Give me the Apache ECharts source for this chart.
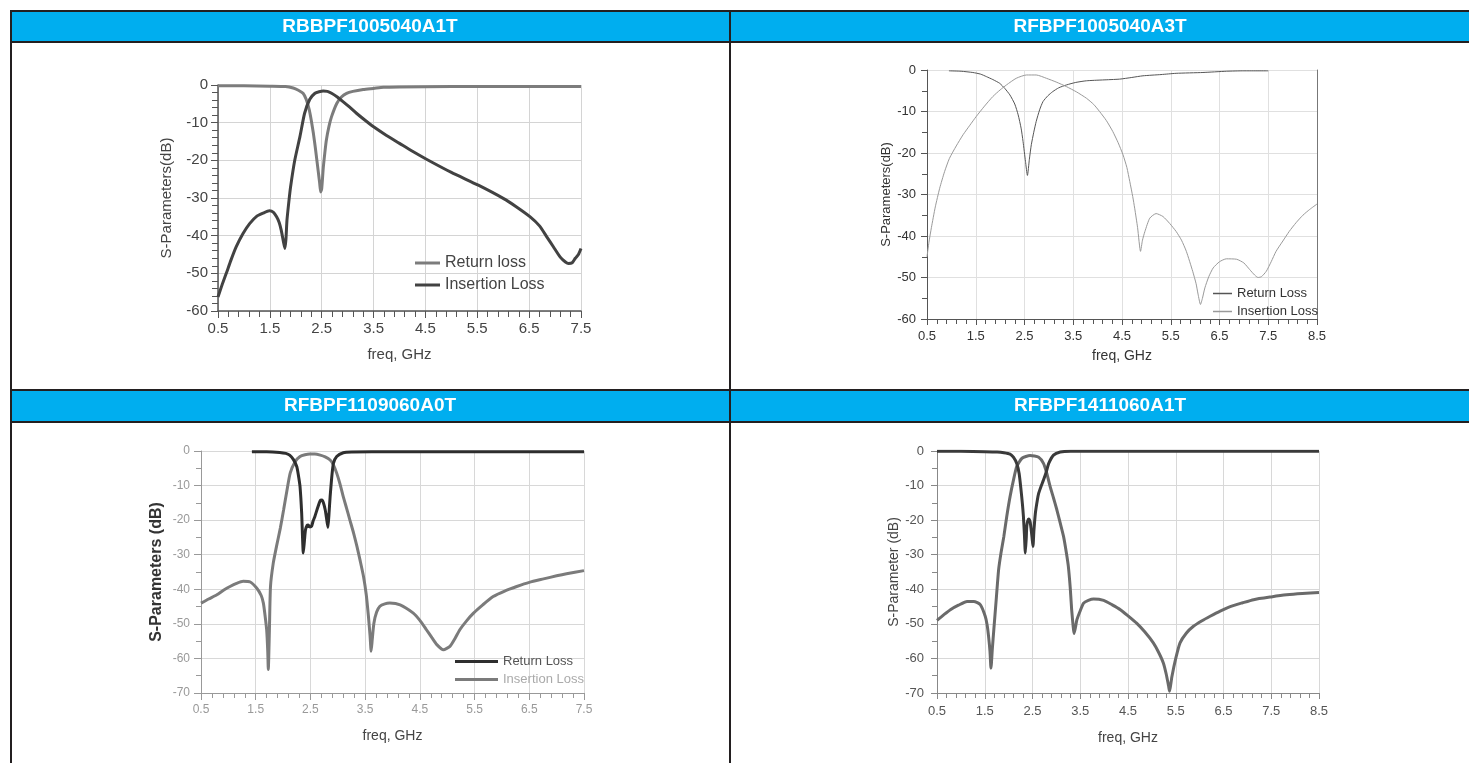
<!DOCTYPE html>
<html>
<head>
<meta charset="utf-8">
<script src="https://cdn.jsdelivr.net/npm/echarts@6/dist/echarts.min.js"></script>
<style>
html,body{margin:0;padding:0;background:#fff;}
#chart{width:1469px;height:763px;}
</style>
</head>
<body>
<div id="chart"></div>
<script>
// ---------- titles / labels ----------
const panelTitles = ['RBBPF1005040A1T', 'RFBPF1005040A3T', 'RFBPF1109060A0T', 'RFBPF1411060A1T'];
const xAxisName = 'freq, GHz';
const yAxisNames = ['S-Parameters(dB)', 'S-Parameters(dB)', 'S-Parameters (dB)', 'S-Parameter (dB)'];
const legendLabels1 = ['Return loss', 'Insertion Loss'];
const legendLabels2 = ['Return Loss', 'Insertion Loss'];
const legendLabels3 = ['Return Loss', 'Insertion Loss'];

// ---------- panel 1 : RBBPF1005040A1T ----------
const p1_rl_f = [0.5, 1.0, 1.5, 1.8, 1.95, 2.05, 2.14, 2.2, 2.26, 2.3, 2.34, 2.38, 2.43, 2.46, 2.48, 2.5, 2.53, 2.56, 2.59, 2.64, 2.69, 2.79, 2.88, 2.98, 3.1, 3.3, 3.5, 3.69, 4.0, 5.0, 6.0, 7.5];
const p1_rl_db = [-0.2, -0.2, -0.3, -0.4, -0.8, -1.4, -2.2, -3.8, -6.6, -9.5, -12.9, -17, -22.6, -26, -28.4, -27.5, -22, -18, -14.6, -11, -8.4, -4.9, -3.2, -2.2, -1.7, -1.2, -0.9, -0.6, -0.5, -0.4, -0.4, -0.4];
const p1_il_f = [0.5, 0.58, 0.66, 0.75, 0.85, 0.98, 1.11, 1.25, 1.37, 1.49, 1.57, 1.63, 1.68, 1.72, 1.76, 1.79, 1.81, 1.83, 1.87, 1.9, 1.98, 2.08, 2.17, 2.27, 2.37, 2.45, 2.53, 2.61, 2.69, 2.8, 2.91, 3.04, 3.17, 3.33, 3.5, 3.75, 4.0, 4.25, 4.52, 5.0, 5.52, 6.0, 6.25, 6.52, 6.7, 6.84, 6.97, 7.1, 7.2, 7.26, 7.33, 7.39, 7.45, 7.5];
const p1_il_db = [-56.3, -53, -50, -46.5, -43, -39.5, -36.8, -34.8, -34, -33.4, -33.8, -35, -36.5, -38.6, -41.5, -43.4, -41, -35.9, -30.5, -27, -20, -13.7, -7.5, -3.8, -2.2, -1.8, -1.6, -1.7, -2.2, -3.2, -4.4, -5.9, -7.5, -9.3, -11.1, -13.4, -15.5, -17.6, -19.7, -23.2, -26.6, -30.1, -32.3, -35, -37.4, -40.3, -43, -45.7, -47, -47.4, -47.2, -46, -45, -43.4];

// ---------- panel 2 : RFBPF1005040A3T ----------
const p2_rl_f = [0.95, 1.2, 1.44, 1.6, 1.72, 1.85, 1.99, 2.1, 2.2, 2.3, 2.37, 2.43, 2.47, 2.52, 2.56, 2.6, 2.64, 2.69, 2.74, 2.81, 2.88, 2.98, 3.08, 3.2, 3.36, 3.55, 3.77, 4.1, 4.45, 4.7, 4.93, 5.3, 5.61, 6.16, 6.64, 7.0, 7.5];
const p2_rl_db = [-0.2, -0.3, -0.6, -1.0, -1.6, -2.3, -3.2, -4.5, -6, -8.2, -10.8, -14, -17.2, -22, -25.4, -21.5, -18, -15, -12.4, -9.6, -7.6, -6.2, -5.2, -4.3, -3.6, -3.0, -2.6, -2.4, -2.2, -1.8, -1.4, -1.1, -0.8, -0.6, -0.3, -0.2, -0.2];
const p2_il_f = [0.5, 0.54, 0.59, 0.67, 0.76, 0.86, 0.96, 1.1, 1.24, 1.38, 1.51, 1.68, 1.85, 2.0, 2.13, 2.33, 2.54, 2.74, 2.95, 3.15, 3.36, 3.57, 3.77, 3.92, 4.04, 4.18, 4.31, 4.42, 4.52, 4.6, 4.66, 4.72, 4.76, 4.82, 4.88, 4.92, 4.97, 5.07, 5.2, 5.34, 5.48, 5.61, 5.72, 5.82, 5.95, 6.02, 6.06, 6.11, 6.15, 6.2, 6.28, 6.37, 6.5, 6.64, 6.85, 7.0, 7.12, 7.22, 7.29, 7.36, 7.46, 7.56, 7.66, 7.8, 7.93, 8.07, 8.21, 8.35, 8.5];
const p2_il_db = [-45, -41.5, -38, -33, -28.5, -24.5, -21.3, -18.3, -15.6, -13.3, -11.2, -8.7, -6.4, -4.8, -3.6, -2.0, -1.2, -1.2, -2.0, -2.9, -4.0, -5.3, -6.8, -8.3, -10, -12.2, -14.8, -17.5, -20.4, -23.5, -26.9, -30.5, -33.3, -38, -43.7, -41, -38.9, -35.7, -34.6, -35.3, -37, -38.9, -41, -43.7, -48.5, -51.5, -54, -56.5, -55, -52.5, -49.8, -47.7, -46.2, -45.5, -45.6, -46.5, -48.1, -49.4, -50, -49.8, -48.5, -46.2, -43.7, -41.2, -38.9, -36.8, -35, -33.6, -32.3];

// ---------- panel 3 : RFBPF1109060A0T ----------
const p3_rl_f = [1.43, 1.7, 1.94, 2.05, 2.12, 2.19, 2.25, 2.28, 2.31, 2.34, 2.37, 2.39, 2.41, 2.44, 2.46, 2.49, 2.52, 2.55, 2.58, 2.63, 2.68, 2.71, 2.74, 2.77, 2.79, 2.82, 2.84, 2.86, 2.89, 2.92, 2.98, 3.1, 3.25, 4.0, 5.0, 6.0, 7.5];
const p3_rl_db = [-0.2, -0.2, -0.4, -0.7, -1.2, -2.5, -4.5, -7, -10.3, -18, -29.5, -26, -22.8, -21.5, -21.4, -22, -21.8, -20.2, -19, -16.5, -14.3, -14.2, -15.1, -17, -19, -22.1, -18, -13.2, -7.5, -3.6, -1.6, -0.5, -0.3, -0.2, -0.2, -0.2, -0.2];
const p3_il_f = [0.5, 0.64, 0.79, 0.91, 1.03, 1.15, 1.27, 1.4, 1.52, 1.6, 1.64, 1.67, 1.7, 1.72, 1.73, 1.75, 1.77, 1.82, 1.88, 1.95, 2.01, 2.07, 2.13, 2.22, 2.31, 2.4, 2.49, 2.58, 2.68, 2.77, 2.86, 2.92, 2.98, 3.04, 3.1, 3.16, 3.22, 3.29, 3.35, 3.41, 3.47, 3.52, 3.56, 3.59, 3.61, 3.63, 3.66, 3.71, 3.77, 3.86, 3.95, 4.14, 4.38, 4.5, 4.62, 4.72, 4.81, 4.93, 5.05, 5.14, 5.23, 5.35, 5.48, 5.65, 5.84, 6.05, 6.27, 6.5, 6.76, 7.0, 7.18, 7.5];
const p3_il_db = [-44, -42.8, -41.6, -40.3, -39.2, -38.3, -37.7, -37.9, -39.7, -41.8, -44, -47.5, -51.7, -58, -63.2, -52, -39.2, -32.5, -27.6, -22.3, -17, -11.5, -6.4, -3.1, -1.6, -1.1, -0.9, -0.9, -1.2, -1.7, -2.6, -4, -6.4, -9.5, -13.2, -16.5, -19.9, -23.8, -27.6, -31.8, -36.3, -41.5, -47.8, -53.5, -57.9, -54.5, -49.8, -46.6, -44.9, -44.2, -44, -44.5, -46.9, -49, -51.7, -54, -56, -57.5, -56.5, -54.3, -51.7, -49.2, -46.9, -44.5, -42.1, -40.5, -39.2, -38, -37, -36.1, -35.5, -34.6];

// ---------- panel 4 : RFBPF1411060A1T ----------
const p4_rl_f = [0.5, 1.0, 1.5, 1.76, 1.9, 2.03, 2.1, 2.17, 2.22, 2.26, 2.29, 2.31, 2.33, 2.35, 2.37, 2.38, 2.4, 2.42, 2.45, 2.47, 2.49, 2.51, 2.53, 2.56, 2.6, 2.63, 2.68, 2.73, 2.79, 2.84, 2.94, 3.08, 3.3, 4.0, 5.0, 6.0, 7.0, 8.5];
const p4_rl_db = [-0.1, -0.1, -0.2, -0.3, -0.5, -0.9, -1.8, -3.6, -6.5, -11.3, -15.5, -19, -24, -29.5, -25, -21.8, -20.2, -19.7, -20.5, -22.5, -25, -27.6, -23, -18, -14.3, -12.2, -10.2, -8.4, -6, -3.6, -1.2, -0.3, -0.1, -0.1, -0.1, -0.1, -0.1, -0.1];
const p4_il_f = [0.5, 0.64, 0.78, 0.95, 1.13, 1.27, 1.41, 1.51, 1.55, 1.58, 1.61, 1.63, 1.66, 1.69, 1.74, 1.79, 1.84, 1.9, 1.96, 2.03, 2.1, 2.17, 2.28, 2.45, 2.63, 2.73, 2.8, 2.87, 2.94, 3.01, 3.08, 3.15, 3.21, 3.25, 3.29, 3.32, 3.35, 3.37, 3.4, 3.43, 3.5, 3.57, 3.67, 3.78, 3.99, 4.17, 4.34, 4.51, 4.68, 4.85, 5.03, 5.14, 5.24, 5.3, 5.35, 5.37, 5.39, 5.42, 5.5, 5.59, 5.72, 5.87, 6.05, 6.22, 6.43, 6.64, 6.9, 7.13, 7.5, 7.82, 8.15, 8.5];
const p4_il_db = [-49, -47.4, -45.9, -44.6, -43.5, -43.5, -44.5, -47.8, -50.3, -53.6, -58, -62.8, -57, -51.7, -43, -34.4, -29.5, -24.7, -19, -13.2, -8.5, -4.5, -2.1, -1.3, -1.8, -3.6, -6.5, -10.3, -13.6, -17, -20.8, -24.7, -29.5, -33.3, -39.5, -45.9, -50.5, -52.8, -51, -48.8, -46.2, -44, -43.2, -42.8, -43.2, -44.5, -45.9, -47.8, -49.8, -52.3, -55.5, -58.2, -61.3, -64.5, -68, -69.5, -68, -65.2, -60, -55.5, -52.7, -50.7, -49.1, -47.8, -46.3, -45, -43.9, -43, -42.2, -41.6, -41.2, -40.9];

// ---------- axis ranges ----------
const xMax = [7.5, 8.5, 7.5, 8.5];
const yMin = [-60, -60, -70, -70];
</script>
<script>
const zip = (f, d) => f.map((v, i) => [v, d[i]]);
const FONT = 'Liberation Sans, Arial, sans-serif';

// layout / style per panel
const P = [
  { grid: {left: 218, top: 85, width: 363, height: 226},
    axisColor: '#555', axisWidth: 1.5, split: '#d4d4d4', labelSize: 15, labelColor: '#444',
    xMargin: 10, yMargin: 10, yMinor: 5, tickLen: 7, minorLen: 6, rightLine: false,
    yName: {size: 15, color: '#444', weight: 'normal', gap: 44},
    xName: {size: 15, color: '#444', gap: 36} },
  { grid: {left: 927, top: 70, width: 390, height: 249},
    axisColor: '#555', axisWidth: 1, split: '#e0e0e0', labelSize: 13, labelColor: '#333',
    xMargin: 11, yMargin: 11, yMinor: 2, tickLen: 6, minorLen: 5, rightLine: true,
    yName: {size: 13, color: '#333', weight: 'normal', gap: 32},
    xName: {size: 14, color: '#333', gap: 30} },
  { grid: {left: 201, top: 451, width: 383, height: 242},
    axisColor: '#999', axisWidth: 1, split: '#d8d8d8', labelSize: 12, labelColor: '#999',
    xMargin: 11, yMargin: 11, yMinor: 2, tickLen: 7, minorLen: 5, rightLine: false,
    yName: {size: 16, color: '#333', weight: 'bold', gap: 36},
    xName: {size: 14, color: '#444', gap: 36} },
  { grid: {left: 937, top: 451, width: 382, height: 242},
    axisColor: '#888', axisWidth: 1, split: '#d8d8d8', labelSize: 13, labelColor: '#555',
    xMargin: 12, yMargin: 13, yMinor: 2, tickLen: 6, minorLen: 5, rightLine: false,
    yName: {size: 14, color: '#444', weight: 'normal', gap: 36},
    xName: {size: 14, color: '#444', gap: 38} }
];

const grids = [], xAxes = [], yAxes = [];
P.forEach((p, i) => {
  grids.push(Object.assign({containLabel: false, outerBoundsMode: 'none'}, p.grid));
  xAxes.push({
    type: 'value', gridIndex: i, min: 0.5, max: xMax[i], interval: 1,
    axisLine: {show: true, onZero: false, lineStyle: {color: p.axisColor, width: p.axisWidth}},
    axisTick: {show: true, length: p.tickLen, lineStyle: {color: p.axisColor}},
    minorTick: {show: true, splitNumber: 5, length: p.minorLen, lineStyle: {color: p.axisColor}},
    minorSplitLine: {show: false},
    splitLine: {show: true, lineStyle: {color: p.split, width: 1}},
    axisLabel: {fontFamily: FONT, fontSize: p.labelSize, color: p.labelColor, margin: p.xMargin,
                formatter: v => v.toFixed(1)},
    name: xAxisName, nameLocation: 'middle', nameGap: p.xName.gap,
    nameTextStyle: {fontFamily: FONT, fontSize: p.xName.size, color: p.xName.color}
  });
  yAxes.push({
    type: 'value', gridIndex: i, min: yMin[i], max: 0, interval: 10,
    axisLine: {show: true, onZero: false, lineStyle: {color: p.axisColor, width: p.axisWidth}},
    axisTick: {show: true, length: p.tickLen, lineStyle: {color: p.axisColor}},
    minorTick: {show: true, splitNumber: p.yMinor, length: p.minorLen, lineStyle: {color: p.axisColor}},
    minorSplitLine: {show: false},
    splitLine: {show: true, lineStyle: {color: p.split, width: 1}},
    axisLabel: {fontFamily: FONT, fontSize: p.labelSize, color: p.labelColor, margin: p.yMargin},
    name: yAxisNames[i], nameLocation: 'middle', nameGap: p.yName.gap, nameRotate: 90,
    nameTextStyle: {fontFamily: FONT, fontSize: p.yName.size, color: p.yName.color, fontWeight: p.yName.weight}
  });
});
// darker right frame line on panel 2
P.forEach((p, i) => {
  if (!p.rightLine) return;
  yAxes.push({
    type: 'value', gridIndex: i, min: yMin[i], max: 0, interval: 10, position: 'right',
    axisLine: {show: true, onZero: false, lineStyle: {color: '#777', width: 1}},
    axisTick: {show: false}, axisLabel: {show: false}, splitLine: {show: false}
  });
});

function line(name, idx, data, color, width) {
  return {
    name: name, type: 'line', xAxisIndex: idx, yAxisIndex: idx, data: data,
    showSymbol: false, symbol: 'none', smooth: 0.2, color: color,
    itemStyle: {color: color},
    lineStyle: {color: color, width: width}, emphasis: {disabled: true}, silent: true
  };
}

const series = [
  line('p1rl', 0, zip(p1_rl_f, p1_rl_db), '#7c7c7c', 3),
  line('p1il', 0, zip(p1_il_f, p1_il_db), '#424242', 3),
  line('p2rl', 1, zip(p2_rl_f, p2_rl_db), '#555555', 1),
  line('p2il', 1, zip(p2_il_f, p2_il_db), '#9a9a9a', 1),
  line('p3il', 2, zip(p3_il_f, p3_il_db), '#7b7b7b', 3),
  line('p3rl', 2, zip(p3_rl_f, p3_rl_db), '#2e2e2e', 3),
  line('p4il', 3, zip(p4_il_f, p4_il_db), '#6a6a6a', 3),
  line('p4rl', 3, zip(p4_rl_f, p4_rl_db), '#3a3a3a', 3)
];

const legendMap = {
  p1rl: legendLabels1[0], p1il: legendLabels1[1],
  p2rl: legendLabels2[0], p2il: legendLabels2[1],
  p3rl: legendLabels3[0], p3il: legendLabels3[1]
};
const legends = [
  {left: 415, top: 255, orient: 'vertical', itemWidth: 25, itemHeight: 3, itemGap: 6, icon: 'rect',
   data: ['p1rl', 'p1il'], textStyle: {fontFamily: FONT, fontSize: 16, color: '#444'}},
  {left: 1213, top: 287, orient: 'vertical', itemWidth: 19, itemHeight: 1.5, itemGap: 5, icon: 'rect',
   data: ['p2rl', 'p2il'], textStyle: {fontFamily: FONT, fontSize: 13, color: '#333'}},
  {left: 455, top: 655, orient: 'vertical', itemWidth: 43, itemHeight: 3, itemGap: 5, icon: 'rect',
   data: [{name: 'p3rl', textStyle: {color: '#555'}}, {name: 'p3il', textStyle: {color: '#aaa'}}],
   textStyle: {fontFamily: FONT, fontSize: 13}}
].map(l => Object.assign({selectedMode: false, padding: 0, formatter: n => legendMap[n]}, l));

// table frame and header bars
const BORDER = '#231f20', BLUE = '#00aeef';
const graphic = [
  {type: 'rect', shape: {x: 12, y: 12, width: 717, height: 29}, style: {fill: BLUE}, silent: true},
  {type: 'rect', shape: {x: 731, y: 12, width: 738, height: 29}, style: {fill: BLUE}, silent: true},
  {type: 'rect', shape: {x: 12, y: 391, width: 717, height: 30}, style: {fill: BLUE}, silent: true},
  {type: 'rect', shape: {x: 731, y: 391, width: 738, height: 30}, style: {fill: BLUE}, silent: true},
  {type: 'rect', shape: {x: 10, y: 10, width: 1459, height: 2}, style: {fill: BORDER}, silent: true},
  {type: 'rect', shape: {x: 10, y: 41, width: 1459, height: 2}, style: {fill: BORDER}, silent: true},
  {type: 'rect', shape: {x: 10, y: 389, width: 1459, height: 2}, style: {fill: BORDER}, silent: true},
  {type: 'rect', shape: {x: 10, y: 421, width: 1459, height: 2}, style: {fill: BORDER}, silent: true},
  {type: 'rect', shape: {x: 10, y: 10, width: 2, height: 753}, style: {fill: BORDER}, silent: true},
  {type: 'rect', shape: {x: 729, y: 10, width: 2, height: 753}, style: {fill: BORDER}, silent: true}
];
const titlePos = [[370, 27], [1100, 27], [370, 406], [1100, 406]];
panelTitles.forEach((t, i) => {
  graphic.push({type: 'text', x: titlePos[i][0], y: titlePos[i][1], silent: true,
    style: {text: t, fill: '#fff', font: 'bold 19px ' + FONT, textAlign: 'center', textVerticalAlign: 'middle'}});
});

const chart = echarts.init(document.getElementById('chart'), null, {renderer: 'canvas'});
chart.setOption({
  animation: false,
  backgroundColor: '#fff',
  grid: grids, xAxis: xAxes, yAxis: yAxes,
  legend: legends,
  series: series,
  graphic: graphic
});
</script>
</body>
</html>
